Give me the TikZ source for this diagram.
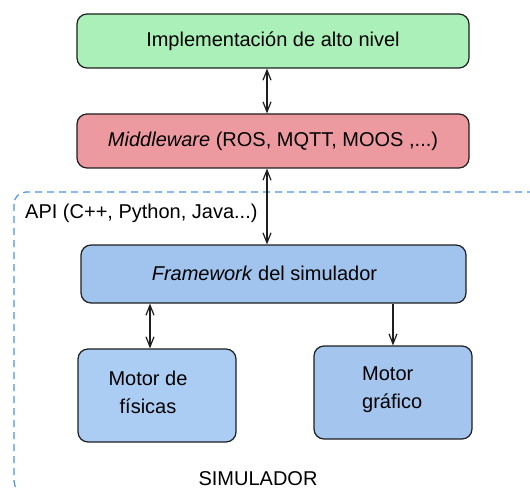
\documentclass[tikz,border=0pt]{standalone}
\usepackage{fontspec}
\setmainfont{Liberation Sans}
\usetikzlibrary{arrows.meta}
\definecolor{hlgreen}{RGB}{170,240,184}
\definecolor{mwred}{RGB}{236,154,160}
\definecolor{fwblue}{RGB}{160,196,238}
\definecolor{phyblue}{RGB}{172,205,243}
\definecolor{gfxblue}{RGB}{163,197,238}
\definecolor{simline}{RGB}{76,148,232}
\definecolor{edge}{RGB}{30,30,30}
\tikzset{
  layer/.style={draw=edge, line width=1.2pt, rounded corners=10pt, inner sep=0pt},
  txt/.style={font=\fontsize{20}{28}\selectfont, text=black, inner sep=0pt},
  link/.style={draw=edge, line width=1.2pt},
  simbox/.style={draw=simline, line width=1.2pt, dash pattern=on 7pt off 5pt, rounded corners=12pt},
  barb/.tip={Straight Barb[length=10pt,width=8pt]}
}
\begin{document}
\begin{tikzpicture}[x=1pt,y=-1pt]
\useasboundingbox (0,0) rectangle (530,489);

% simulator region (runs past the right and bottom edges)
\begin{scope}
\clip (0,0) rectangle (530,489);
\draw[simbox] (14,192) rectangle (545,493);
\end{scope}
\node[txt, anchor=west] (api) at (25,213) {API (C++, Python, Java...)};
\node[txt] (sim) at (258,478.5) {SIMULADOR};

% layers
\node[layer, fill=hlgreen, minimum width=392pt, minimum height=54pt] (impl) at (273,41) {};
\node[txt] at (impl) {Implementación de alto nivel};
\node[layer, fill=mwred, minimum width=392pt, minimum height=54pt] (mw) at (273,141) {};
\node[txt] at (mw) {\textit{Middleware} (ROS, MQTT, MOOS ,...)};
\node[layer, fill=fwblue, minimum width=385pt, minimum height=58pt] (fw) at (273.5,274) {};
\node[txt] at (264.5,273) {\textit{Framework} del simulador};
\node[layer, fill=phyblue, minimum width=158pt, minimum height=93pt] (phy) at (157,395.5) {};
\node[txt, align=center] at (148,392) {Motor de\\físicas};
\node[layer, fill=gfxblue, minimum width=158pt, minimum height=93pt] (gfx) at (393,392.5) {};
\node[txt, align=left, anchor=west] at (362,390) {Motor\\gráfico};

% connectors
\coordinate (a1) at (267,68);
\draw[link, barb-barb] (impl.south -| a1) -- (mw.north -| a1);
\draw[link, barb-barb] (mw.south -| a1) -- (fw.north -| a1);
\coordinate (c1) at (150,303);
\draw[link, barb-barb] (fw.south -| c1) -- (phy.north -| c1);
\coordinate (d1) at (393,303);
\draw[link, -barb] (fw.south -| d1) -- (gfx.north);
\end{tikzpicture}
\end{document}
